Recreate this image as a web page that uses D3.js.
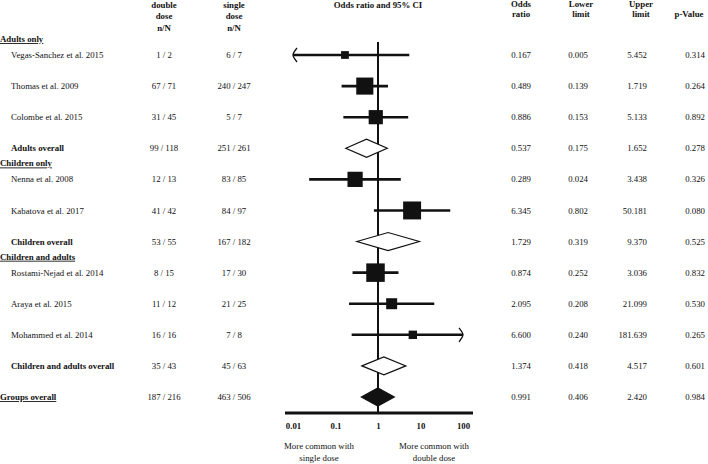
<!DOCTYPE html>
<html>
<head>
<meta charset="utf-8">
<script src="https://cdn.jsdelivr.net/npm/d3@7"></script>
<style>
  body { margin: 0; background: #fff; }
  svg text { font-family: "Liberation Serif", "Times New Roman", serif; fill: #111; }
</style>
</head>
<body>
<div class="forest"></div>
<script>
// rows of the forest plot, top to bottom
const rowLabels = [
  "Vegas-Sanchez et al. 2015", "Thomas et al. 2009", "Colombe et al. 2015", "Adults overall",
  "Nenna et al. 2008", "Kabatova et al. 2017", "Children overall",
  "Rostami-Nejad et al. 2014", "Araya et al. 2015", "Mohammed et al. 2014", "Children and adults overall",
  "Groups overall"
];
const rowTypes = [
  "study", "study", "study", "summary",
  "study", "study", "summary",
  "study", "study", "study", "summary",
  "total"
];
const doubleDose = ["1 / 2", "67 / 71", "31 / 45", "99 / 118", "12 / 13", "41 / 42", "53 / 55",
  "8 / 15", "11 / 12", "16 / 16", "35 / 43", "187 / 216"];
const singleDose = ["6 / 7", "240 / 247", "5 / 7", "251 / 261", "83 / 85", "84 / 97", "167 / 182",
  "17 / 30", "21 / 25", "7 / 8", "45 / 63", "463 / 506"];
const oddsRatio = [0.167, 0.489, 0.886, 0.537, 0.289, 6.345, 1.729, 0.874, 2.095, 6.600, 1.374, 0.991];
const lowerLimit = [0.005, 0.139, 0.153, 0.175, 0.024, 0.802, 0.319, 0.252, 0.208, 0.240, 0.418, 0.406];
const upperLimit = [5.452, 1.719, 5.133, 1.652, 3.438, 50.181, 9.370, 3.036, 21.099, 181.639, 4.517, 2.420];
const pValue = [0.314, 0.264, 0.892, 0.278, 0.326, 0.080, 0.525, 0.832, 0.530, 0.265, 0.601, 0.984];
// relative study weights (box area)
const weights = [0.6, 2.9, 2.0, null, 2.3, 3.2, null, 3.4, 1.2, 0.7, null, null];

const groupHeaders = ["Adults only", "Children only", "Children and adults"];
const groupStartRow = [0, 4, 7];

const axisTicks = [0.01, 0.1, 1, 10, 100];

const width = 708;
const height = 464;
const fs = 8.8;

const svg = d3.select(".forest").append("svg")
  .attr("width", width)
  .attr("height", height);

const y = d3.scalePoint().domain(d3.range(rowLabels.length)).range([55, 397]);
const x = d3.scaleLog().domain([0.01, 100]).range([293, 463]);
const size = d3.scaleSqrt().domain([0, d3.max(weights)]).range([0, 18.5]);

// column headers
function header(lines, cx, y0, weight, step) {
  const t = svg.append("text")
    .attr("x", cx).attr("y", y0)
    .attr("text-anchor", "middle")
    .attr("font-size", fs)
    .attr("font-weight", weight || "bold");
  lines.forEach((l, i) => {
    t.append("tspan").attr("x", cx).attr("dy", i === 0 ? 0 : (step || 10.5)).text(l);
  });
}
header(["double", "dose"], 164, 8);
header(["n/N"], 164, 31);
header(["single", "dose"], 234, 8);
header(["n/N"], 234, 31);
header(["Odds ratio and 95% CI"], 378, 8);
header(["Odds", "ratio"], 521, 6.5);
header(["Lower", "limit"], 581, 6.5);
header(["Upper", "limit"], 641, 6.5);
header(["p-Value"], 689, 16.5);

// group headers
svg.selectAll("text.group")
  .data(groupHeaders)
  .enter()
  .append("text")
  .attr("class", "group")
  .attr("x", 0)
  .attr("y", (d, i) => y(groupStartRow[i]) - 16)
  .attr("dy", "0.35em")
  .attr("font-size", fs)
  .attr("font-weight", "bold")
  .attr("text-decoration", "underline")
  .text(d => d);

const rows = d3.range(rowLabels.length);

// row labels
svg.selectAll("text.label")
  .data(rows)
  .enter()
  .append("text")
  .attr("class", "label")
  .attr("x", i => rowTypes[i] === "total" ? 0 : 11)
  .attr("y", i => y(i))
  .attr("dy", "0.35em")
  .attr("font-size", fs)
  .attr("font-weight", i => rowTypes[i] === "study" ? "normal" : "bold")
  .attr("text-decoration", i => rowTypes[i] === "total" ? "underline" : "none")
  .text(i => rowLabels[i]);

// n/N columns
[[doubleDose, 164], [singleDose, 234]].forEach(([col, cx]) => {
  svg.append("g").selectAll("text")
    .data(rows)
    .enter()
    .append("text")
    .attr("x", cx)
    .attr("y", i => y(i))
    .attr("dy", "0.35em")
    .attr("text-anchor", "middle")
    .attr("font-size", fs)
    .text(i => col[i]);
});

// numeric columns, right aligned
[[oddsRatio, 531], [lowerLimit, 588], [upperLimit, 647], [pValue, 705]].forEach(([col, rx]) => {
  svg.append("g").selectAll("text")
    .data(rows)
    .enter()
    .append("text")
    .attr("x", rx)
    .attr("y", i => y(i))
    .attr("dy", "0.35em")
    .attr("text-anchor", "end")
    .attr("font-size", fs)
    .text(i => col[i].toFixed(3));
});

// line of no effect
svg.append("line")
  .attr("x1", x(1)).attr("x2", x(1))
  .attr("y1", y(0) - 13).attr("y2", 413)
  .attr("stroke", "#111")
  .attr("stroke-width", 2);

// confidence intervals for studies
const studyRows = rows.filter(i => rowTypes[i] === "study");
const lo = x.domain()[0], hi = x.domain()[1];

svg.append("g").selectAll("line")
  .data(studyRows)
  .enter()
  .append("line")
  .attr("x1", i => x(Math.max(lowerLimit[i], lo)))
  .attr("x2", i => x(Math.min(upperLimit[i], hi)))
  .attr("y1", i => y(i))
  .attr("y2", i => y(i))
  .attr("stroke", "#111")
  .attr("stroke-width", 2.6);

// arrows where CI runs off the scale
studyRows.forEach(i => {
  if (lowerLimit[i] < lo) {
    const ax = x(lo), ay = y(i);
    svg.append("path")
      .attr("d", `M${ax + 4},${ay - 7} Q${ax},${ay - 2} ${ax},${ay} Q${ax},${ay + 2} ${ax + 4},${ay + 7}`)
      .attr("fill", "none").attr("stroke", "#111").attr("stroke-width", 1.3);
  }
  if (upperLimit[i] > hi) {
    const ax = x(hi), ay = y(i);
    svg.append("path")
      .attr("d", `M${ax - 4},${ay - 7} Q${ax},${ay - 2} ${ax},${ay} Q${ax},${ay + 2} ${ax - 4},${ay + 7}`)
      .attr("fill", "none").attr("stroke", "#111").attr("stroke-width", 1.3);
  }
});

// study boxes
svg.append("g").selectAll("rect")
  .data(studyRows)
  .enter()
  .append("rect")
  .attr("x", i => x(oddsRatio[i]) - size(weights[i]) / 2)
  .attr("y", i => y(i) - size(weights[i]) / 2)
  .attr("width", i => size(weights[i]))
  .attr("height", i => size(weights[i]))
  .attr("fill", "#111");

// summary diamonds
const sumRows = rows.filter(i => rowTypes[i] !== "study");
svg.append("g").selectAll("path")
  .data(sumRows)
  .enter()
  .append("path")
  .attr("d", i => {
    const yy = y(i), h = 9;
    return `M${x(lowerLimit[i])},${yy} L${x(oddsRatio[i])},${yy - h} L${x(upperLimit[i])},${yy} L${x(oddsRatio[i])},${yy + h} Z`;
  })
  .attr("fill", i => rowTypes[i] === "total" ? "#111" : "#fff")
  .attr("stroke", "#111")
  .attr("stroke-width", 1.2);

// x axis
svg.append("line")
  .attr("x1", x.range()[0] - 8).attr("x2", x.range()[1] + 10)
  .attr("y1", 413).attr("y2", 413)
  .attr("stroke", "#111")
  .attr("stroke-width", 3);

const axis = svg.append("g")
  .attr("transform", "translate(0,420)")
  .call(d3.axisBottom(x).tickValues(axisTicks).tickSize(0).tickFormat(d => String(d)));
axis.select(".domain").remove();
axis.selectAll("text")
  .attr("font-size", fs)
  .attr("font-weight", "bold")
  .attr("fill", "#111");

// footnotes
header(["More common with", "single dose"], 319, 449, "normal", 12);
header(["More common with", "double dose"], 434, 449, "normal", 12);
</script>
</body>
</html>
